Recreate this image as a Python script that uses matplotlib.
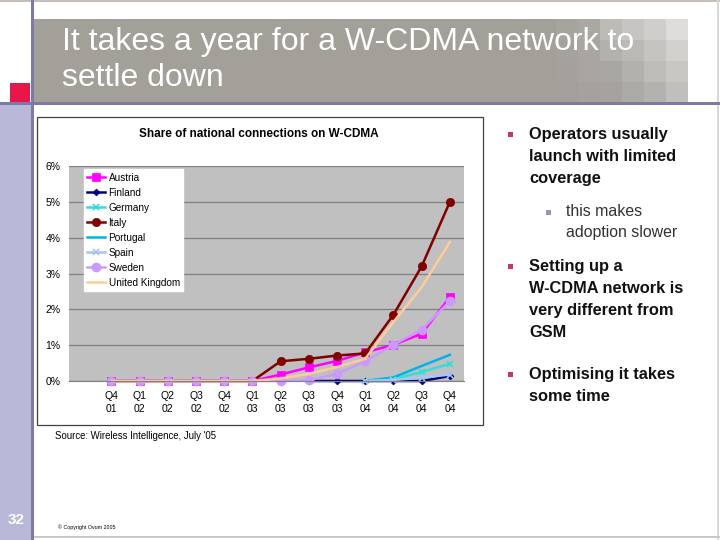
import matplotlib
matplotlib.use("Agg")
import matplotlib.pyplot as plt
from matplotlib.patches import Rectangle

# ============================================================
# DATA
# ============================================================
QUARTERS = ["Q4\n01", "Q1\n02", "Q2\n02", "Q3\n02", "Q4\n02", "Q1\n03", "Q2\n03",
            "Q3\n03", "Q4\n03", "Q1\n04", "Q2\n04", "Q3\n04", "Q4\n04"]

AUSTRIA = [0, 0, 0, 0, 0, 0, 0.18, 0.38, 0.56, 0.80, 1.01, 1.32, 2.34]
FINLAND = [None, None, None, None, None, None, None, 0, 0, 0, 0, 0, 0.14]
GERMANY = [None, None, None, None, None, None, None, None, None, 0, 0.05, 0.25, 0.48]
ITALY = [0, 0, 0, 0, 0, 0, 0.55, 0.62, 0.71, 0.77, 1.85, 3.20, 5.00]
PORTUGAL = [None, None, None, None, None, None, None, None, None, 0, 0.10, 0.42, 0.73]
SPAIN = [None, None, None, None, None, None, None, None, None, 0, 0.03, 0.09, 0.18]
SWEDEN = [0, 0, 0, 0, 0, 0, 0, 0.02, 0.20, 0.55, 1.01, 1.43, 2.23]
UK = [0, 0, 0, 0, 0, 0, 0.07, 0.20, 0.39, 0.62, 1.65, 2.62, 3.88]

Y_TICKS = [0, 1, 2, 3, 4, 5, 6]

# (name, values, color, marker, markersize)
SERIES = [
    ("Austria", AUSTRIA, "#FF00FF", "s", 6),
    ("Finland", FINLAND, "#000080", "D", 3.5),
    ("Germany", GERMANY, "#33DDDD", "x", 4),
    ("Italy", ITALY, "#800000", "o", 6),
    ("Portugal", PORTUGAL, "#00B4E6", None, 0),
    ("Spain", SPAIN, "#A6C8F0", "x", 4),
    ("Sweden", SWEDEN, "#CC99FF", "o", 6.5),
    ("United Kingdom", UK, "#FFCC99", None, 0),
]

FONT = "Liberation Sans"

# ============================================================
# FIGURE / SLIDE
# ============================================================
fig = plt.figure(figsize=(7.2, 5.4), dpi=100)


def px_rect(x0, y0, x1, y1, **kw):
    """rectangle in pixel coords (origin top-left)"""
    fig.patches.append(Rectangle((x0 / 720, 1 - y1 / 540), (x1 - x0) / 720, (y1 - y0) / 540,
                                 transform=fig.transFigure, figure=fig, **kw))


def px_text(x, y, s, **kw):
    fig.text(x / 720, 1 - y / 540, s, family=FONT, **kw)


# frame lines
px_rect(0, 0, 720, 2, color="#C8C0B8", lw=0)
px_rect(717, 0, 719, 540, color="#D8D8D8", lw=0)
px_rect(0, 536, 720, 538, color="#C8C8C8", lw=0)
# left lavender strip + purple line
px_rect(0, 105, 31, 540, color="#B8B8D8", lw=0)
px_rect(31, 0, 34, 540, color="#7E7AA6", lw=0)
px_rect(0, 102, 720, 105, color="#7E7AA6", lw=0)
px_rect(10, 83, 30, 102, color="#E8174A", lw=0)

# title box with checker pattern on the right
px_rect(34, 19, 688, 102, color="#A3A09A", lw=0)
checker = [
    ["#A7A49E", "#ABA8A3", "#BDBBB6", "#C7C5C2", "#D0CECB", "#DEDDDB"],
    ["#A5A29D", "#A9A6A1", "#B3B1AD", "#BBB9B5", "#C6C4C1", "#D2D1CE"],
    ["#A4A19C", "#A8A5A0", "#A9A7A2", "#B3B1AD", "#BFBDBA", "#C8C7C4"],
    ["#A3A09B", "#A5A29D", "#A6A39E", "#ACAAA5", "#B4B2AE", "#C0BFBB"],
]
col_w = 22
for r, row in enumerate(checker):
    for c, col in enumerate(row):
        x0 = 688 - (len(row) - c) * col_w
        y0 = 19 + r * 21
        px_rect(x0, y0, x0 + col_w, min(y0 + 21, 102), color=col, lw=0)

px_text(62, 42, "It takes a year for a W-CDMA network to", color="white", fontsize=23, va="center")
px_text(62, 78, "settle down", color="white", fontsize=23, va="center")

# chart frame
px_rect(37, 117, 483, 425, facecolor="white", edgecolor="#404040", lw=0.9)
px_text(259, 134, "Share of national connections on W-CDMA", fontsize=8.5, weight="bold",
        ha="center", va="center")

# ============================================================
# CHART
# ============================================================
ax = fig.add_axes([69 / 720, 1 - 381 / 540, (464 - 69) / 720, (381 - 166) / 540])
ax.set_zorder(3)
ax.set_facecolor("#C0C0C0")
x = list(range(len(QUARTERS)))
for name, vals, color, marker, ms in SERIES:
    xs = [i for i, v in zip(x, vals) if v is not None]
    ys = [v for v in vals if v is not None]
    ax.plot(xs, ys, color=color, lw=1.8, marker=marker, markersize=ms,
            markeredgewidth=1.2 if marker == "x" else 0.5, label=name, clip_on=False)

ax.set_xlim(-1.5, 12.5)
ax.set_ylim(0, 6)
ax.set_yticks(Y_TICKS)
ax.set_yticklabels([f"{t}%" for t in Y_TICKS], family=FONT, fontsize=7.5)
ax.set_xticks(x)
ax.set_xticklabels(QUARTERS, family=FONT, fontsize=7.5, linespacing=1.45)
ax.tick_params(axis="y", length=0, pad=6)
ax.tick_params(axis="x", length=0, pad=7)
ax.grid(axis="y", color="#808080", lw=0.9)
ax.set_axisbelow(True)
for s in ["top", "right", "left"]:
    ax.spines[s].set_visible(False)
ax.spines["bottom"].set_color("#808080")

leg = ax.legend(loc="upper left", bbox_to_anchor=(0.037, 0.985), prop={"family": FONT, "size": 7.2},
                frameon=True, fancybox=False, framealpha=1, edgecolor="white",
                handlelength=1.8, handletextpad=0.35, labelspacing=0.5, borderpad=0.35,
                borderaxespad=0)

px_text(55, 436, "Source: Wireless Intelligence, July '05", fontsize=6.9, va="center")

# ============================================================
# BULLETS
# ============================================================
bullets = [
    (135, ["Operators usually", "launch with limited", "coverage"]),
    (267, ["Setting up a", "W-CDMA network is", "very different from", "GSM"]),
    (375, ["Optimising it takes", "some time"]),
]
for y0, lines in bullets:
    px_rect(508, y0 - 3, 513, y0 + 2, color="#CC3366", lw=0)
    for i, line in enumerate(lines):
        px_text(529, y0 + i * 21.7, line, fontsize=11.8, weight="bold", va="center",
                color="#111111")

px_rect(546, 210, 551, 215, color="#9A98B0", lw=0)
px_text(566, 212, "this makes", fontsize=11.4, va="center", color="#333333")
px_text(566, 232, "adoption slower", fontsize=11.4, va="center", color="#333333")

# footer
px_text(16, 520, "32", fontsize=11, color="white", weight="bold", va="center", ha="center")
px_text(58, 527, "© Copyright Ovum 2005", fontsize=3.8, va="center")

fig.savefig("out.png", dpi=100)
